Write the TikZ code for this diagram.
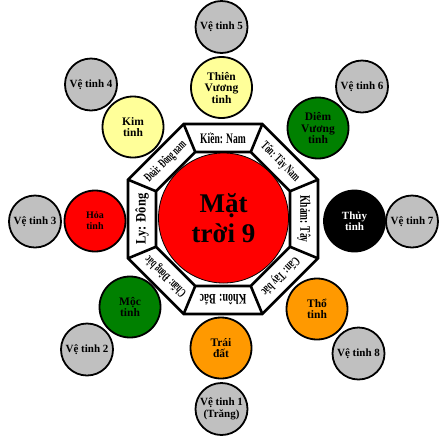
\documentclass[tikz,border=0pt]{standalone}
\usepackage{fontspec}
\setmainfont{Liberation Serif}
\definecolor{sgray}{RGB}{192,192,192}
\definecolor{lyellow}{RGB}{255,255,153}
\definecolor{dgreen}{RGB}{0,128,0}
\definecolor{orng}{RGB}{255,153,0}
\begin{document}
\begin{tikzpicture}[x=1pt,y=1pt,
  planet/.style={circle,draw=black,line width=1.8pt,minimum size=61pt,inner sep=0pt,align=center,font=\fontsize{11.5}{11.5}\selectfont\bfseries},
  sat/.style={circle,draw=black,line width=1.8pt,minimum size=52pt,inner sep=0pt,fill=sgray,align=center,font=\fontsize{11}{12}\selectfont\bfseries},
  gua/.style={inner sep=0pt,font=\fontsize{14.5}{15}\selectfont\bfseries},
  guad/.style={inner sep=0pt,font=\fontsize{13}{14}\selectfont\bfseries},
  oct/.style={line width=2.6pt,line join=miter}]
\useasboundingbox (0,0) rectangle (446,-440);
\coordinate (C) at (223,-219);
\foreach \k in {0,...,7} {
  \coordinate (o\k) at ([shift={(C)}]22.5+45*\k:102.8);
  \coordinate (i\k) at ([shift={(C)}]22.5+45*\k:72.5);
}
\filldraw[oct,fill=white] (o0)--(o1)--(o2)--(o3)--(o4)--(o5)--(o6)--(o7)--cycle;
\draw[oct] (i0)--(i1)--(i2)--(i3)--(i4)--(i5)--(i6)--(i7)--cycle;
\foreach \k in {0,...,7} { \draw[oct] (i\k) -- (o\k); }
% sun
\node[circle,draw=black,line width=0.8pt,fill=red,minimum size=130pt,inner sep=0pt,align=center,
  font=\fontsize{27}{30}\selectfont\bfseries] (sun) at (223.5,-218) {Mặt\\trời 9};
% bagua labels
\node[gua] (kien) at ([shift={(C)}]90:81) {\scalebox{0.66}[1]{Kiền: Nam}};
\node[guad,rotate=-45] (ton) at ([shift={(C)}]45:81) {\scalebox{0.6}[1]{Tốn: Tây Nam}};
\node[gua,rotate=-90] (kham) at ([shift={(C)}]0:81) {\scalebox{0.65}[1]{Khảm: Tây}};
\node[guad,rotate=-135] (can) at ([shift={(C)}]-45:81) {\scalebox{0.64}[1]{Cấn: Tây bắc}};
\node[gua,rotate=180] (khon) at ([shift={(C)}]-90:81) {\scalebox{0.69}[1]{Khôn: Bắc}};
\node[guad,rotate=135] (chan) at ([shift={(C)}]-135:81) {\scalebox{0.58}[1]{Chấn: Đông bắc}};
\node[gua,rotate=90] (ly) at ([shift={(C)}]180:81) {\scalebox{0.86}[1]{Ly: Đông}};
\node[guad,rotate=45] (doai) at ([shift={(C)}]135:81) {\scalebox{0.58}[1]{Đoài: Đông nam}};
% planets
\node[planet,fill=lyellow] (thienvuong) at (221.5,-87.5) {Thiên\\Vương\\tinh};
\node[planet,fill=lyellow] (kim) at (133,-127) {Kim\\tinh};
\node[planet,fill=dgreen] (diemvuong) at (318,-128) {Diêm\\Vương\\tinh};
\node[planet,fill=red,font=\fontsize{10}{11}\selectfont\bfseries] (hoa) at (95,-221) {Hỏa\\tinh};
\node[planet,fill=black,text=white,font=\fontsize{11}{11.5}\selectfont\bfseries] (thuy) at (354.5,-221) {Thủy\\tinh};
\node[planet,fill=dgreen] (moc) at (130,-307) {Mộc\\tinh};
\node[planet,fill=orng] (traidat) at (221,-348) {Trái\\đất};
\node[planet,fill=orng] (tho) at (317,-309) {Thổ\\tinh};
% satellites
\node[sat] (v5) at (221.5,-27) {Vệ tinh 5};
\node[sat] (v4) at (91,-84.5) {Vệ tinh 4};
\node[sat] (v6) at (362,-86.5) {Vệ tinh 6};
\node[sat] (v3) at (35,-221.5) {Vệ tinh 3};
\node[sat] (v7) at (412,-221.5) {Vệ tinh 7};
\node[sat] (v2) at (87,-349.5) {Vệ tinh 2};
\node[sat] (v8) at (358.5,-353.5) {Vệ tinh 8};
\node[sat] (v1) at (221.5,-409) {Vệ tinh 1\\(Trăng)};
\end{tikzpicture}
\end{document}
